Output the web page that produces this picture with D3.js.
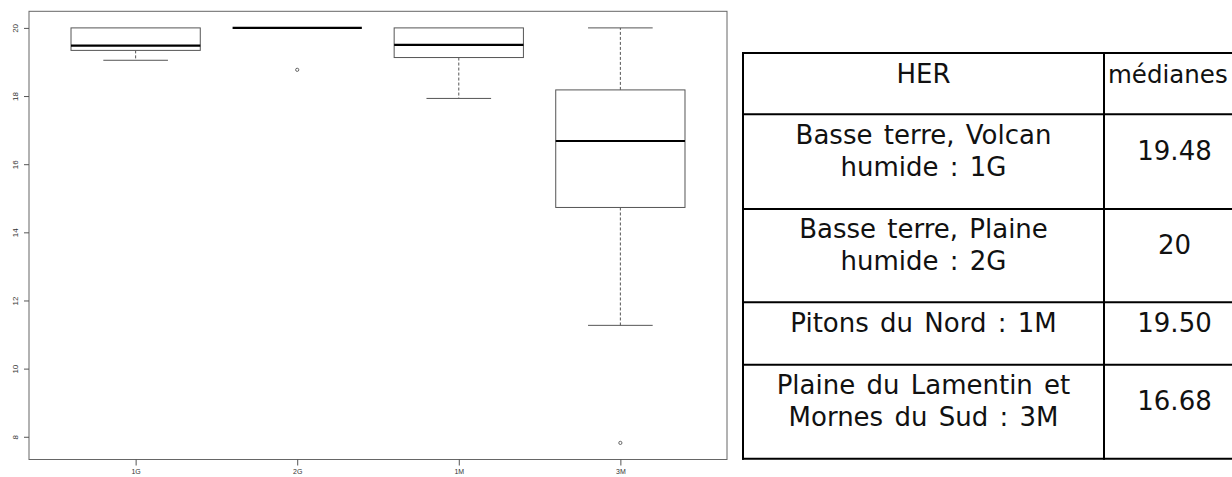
<!DOCTYPE html>
<html><head><meta charset="utf-8">
<script src="https://cdn.jsdelivr.net/npm/d3@7"></script>
<style>html,body{margin:0;padding:0;background:#fff;}svg{display:block;}</style>
</head><body>
<svg id="c" width="1232" height="477"></svg>
<script>
// ---- data ----
const categories = ["1G", "2G", "1M", "3M"];
const whiskerLow = [19.05, 20, 17.93, 11.27];
const q1 = [19.34, 20, 19.13, 14.73];
const medians = [19.48, 20, 19.50, 16.68];
const q3 = [20, 20, 20, 18.18];
const whiskerHigh = [20, 20, 20, 20];
const outliers = [[], [18.77], [], [7.82]];
const yTicks = [8, 10, 12, 14, 16, 18, 20];

const tableHeader = ["HER", "médianes"];
const herLabels = [
  ["Basse terre, Volcan", "humide : 1G"],
  ["Basse terre, Plaine", "humide : 2G"],
  ["Pitons du Nord : 1M"],
  ["Plaine du Lamentin et", "Mornes du Sud : 3M"]
];
const medianLabels = ["19.48", "20", "19.50", "16.68"];

// ---- chart ----
const svg = d3.select("#c");
const plot = {left: 29, right: 727, top: 11.3, bottom: 459.5};

const allVals = whiskerLow.concat(whiskerHigh, outliers.flat());
const lo = d3.min(allVals), hi = d3.max(allVals), pad = (hi - lo) * 0.04;
const y = d3.scaleLinear().domain([lo - pad, hi + pad]).range([plot.bottom, plot.top]);
const x = d3.scaleLinear().domain([0.5 - 0.16, categories.length + 0.5 + 0.16]).range([plot.left, plot.right]);

const lineCol = "#555";
const g = svg.append("g");

// frame
g.append("rect").attr("x", plot.left).attr("y", plot.top)
  .attr("width", plot.right - plot.left).attr("height", plot.bottom - plot.top)
  .attr("fill", "none").attr("stroke", "#666").attr("stroke-width", 1);

// y axis
const yAxis = d3.axisLeft(y).tickValues(yTicks).tickSize(5).tickFormat(d3.format("d"));
const ya = g.append("g").attr("transform", `translate(${plot.left},0)`).call(yAxis);
ya.select(".domain").remove();
ya.selectAll(".tick line").attr("stroke", "#555");
ya.selectAll(".tick text")
  .attr("transform", "rotate(-90)").attr("x", 0).attr("y", -14).attr("dy", "0.32em")
  .attr("text-anchor", "middle")
  .style("font-family", "Liberation Sans, Arial, sans-serif").style("font-size", "8px").attr("fill", "#333");

// x axis
const xAxis = d3.axisBottom(x).tickValues(d3.range(1, categories.length + 1)).tickSize(6)
  .tickFormat(i => categories[i - 1]);
const xa = g.append("g").attr("transform", `translate(0,${plot.bottom})`).call(xAxis);
xa.select(".domain").remove();
xa.selectAll(".tick line").attr("stroke", "#555");
xa.selectAll(".tick text").attr("y", 10).attr("dy", "0.71em")
  .style("font-family", "Liberation Sans, Arial, sans-serif").style("font-size", "7px").attr("fill", "#333");

// boxes
const bw = 0.4, cw = 0.2;
categories.forEach((c, i) => {
  const cx = x(i + 1);
  const bx0 = x(i + 1 - bw), bx1 = x(i + 1 + bw);
  const kx0 = x(i + 1 - cw), kx1 = x(i + 1 + cw);
  if (whiskerLow[i] < q1[i]) {
    g.append("line").attr("x1", cx).attr("x2", cx).attr("y1", y(q1[i])).attr("y2", y(whiskerLow[i]))
      .attr("stroke", lineCol).attr("stroke-dasharray", "3,2");
    g.append("line").attr("x1", kx0).attr("x2", kx1).attr("y1", y(whiskerLow[i])).attr("y2", y(whiskerLow[i]))
      .attr("stroke", lineCol);
  }
  if (whiskerHigh[i] > q3[i]) {
    g.append("line").attr("x1", cx).attr("x2", cx).attr("y1", y(q3[i])).attr("y2", y(whiskerHigh[i]))
      .attr("stroke", lineCol).attr("stroke-dasharray", "3,2");
    g.append("line").attr("x1", kx0).attr("x2", kx1).attr("y1", y(whiskerHigh[i])).attr("y2", y(whiskerHigh[i]))
      .attr("stroke", lineCol);
  }
  if (q3[i] > q1[i]) {
    g.append("rect").attr("x", bx0).attr("y", y(q3[i])).attr("width", bx1 - bx0)
      .attr("height", y(q1[i]) - y(q3[i])).attr("fill", "#fff").attr("stroke", lineCol);
  }
  g.append("line").attr("x1", bx0).attr("x2", bx1).attr("y1", y(medians[i])).attr("y2", y(medians[i]))
    .attr("stroke", "#000").attr("stroke-width", 2.2);
  outliers[i].forEach(v => {
    g.append("circle").attr("cx", cx).attr("cy", y(v)).attr("r", 1.6)
      .attr("fill", "none").attr("stroke", "#444").attr("stroke-width", 0.8);
  });
});

// ---- table ----
const tbl = {left: 743, mid: 1104, right: 1234};
const rowLines = [53, 114.3, 209, 302.3, 364.7, 458.7];
const fontFam = "DejaVu Sans, Verdana, sans-serif";
const fs = 26;
const t = svg.append("g");
rowLines.forEach(yy => {
  t.append("line").attr("x1", tbl.left - 1).attr("x2", tbl.right).attr("y1", yy).attr("y2", yy)
    .attr("stroke", "#000").attr("stroke-width", 2);
});
[tbl.left, tbl.mid].forEach(xx => {
  t.append("line").attr("x1", xx).attr("x2", xx).attr("y1", rowLines[0] - 1).attr("y2", rowLines[rowLines.length - 1] + 1)
    .attr("stroke", "#000").attr("stroke-width", 2);
});
const c1 = (tbl.left + tbl.mid) / 2, c2 = 1174.5;
const txt = (xx, yy, s, anchor, size) => t.append("text").attr("x", xx).attr("y", yy).attr("text-anchor", anchor)
  .style("font-family", fontFam).style("font-size", (size || fs) + "px").style("word-spacing", "3px")
  .attr("fill", "#111").text(s);
// header
txt(c1, 82.7, tableHeader[0], "middle");
txt(1108, 82.7, tableHeader[1], "start", 24.5);
// body rows: value baseline per row; label lines centred on it
const valueBaselines = [160, 254.3, 331.7, 410];
const lh = 31.7;
herLabels.forEach((lines, i) => {
  const first = valueBaselines[i] - (lines.length - 1) * lh / 2;
  lines.forEach((s, k) => txt(c1, first + k * lh, s, "middle"));
  txt(c2, valueBaselines[i], medianLabels[i], "middle");
});
</script>
</body></html>
